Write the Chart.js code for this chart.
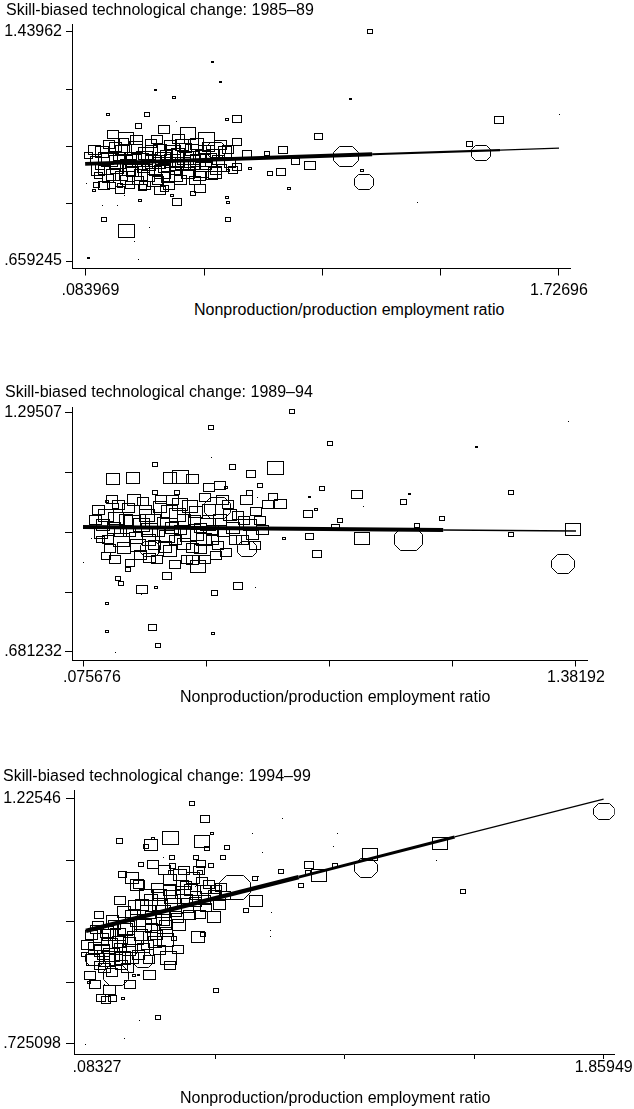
<!DOCTYPE html>
<html><head><meta charset="utf-8">
<script src="https://cdn.jsdelivr.net/npm/chart.js@4.4.0/dist/chart.umd.min.js"></script>
<style>
html,body{margin:0;padding:0;background:#fff;}
body{width:634px;height:1109px;position:relative;overflow:hidden;font-family:'Liberation Sans',Arial,sans-serif;}
canvas{position:absolute;left:0;}
.t{position:absolute;font-size:16px;line-height:16px;color:#000;white-space:nowrap;z-index:2;}
</style></head><body>
<div class="t" style="left:6px;top:1.5px">Skill-biased technological change: 1985–89</div>
<div class="t" style="left:194px;top:301.5px">Nonproduction/production employment ratio</div>
<div class="t" style="left:5px;top:383.5px">Skill-biased technological change: 1989–94</div>
<div class="t" style="left:180px;top:689px">Nonproduction/production employment ratio</div>
<div class="t" style="left:3px;top:767.5px">Skill-biased technological change: 1994–99</div>
<div class="t" style="left:180px;top:1089.5px">Nonproduction/production employment ratio</div>
<canvas id="c1" width="634" height="300" style="top:0px"></canvas>
<canvas id="c2" width="634" height="360" style="top:340px"></canvas>
<canvas id="c3" width="634" height="380" style="top:720px"></canvas>
<script>
// ---------- Panel 1: 1985–89 ----------
const xTicks1 = [0.083969, 0.494717, 0.905465, 1.316212, 1.72696];
const xTickLabels1 = ['  .083969', '', '', '', '1.72696'];
const yTicks1 = [0.659245, 0.854339, 1.049433, 1.244526, 1.43962];
const yTickLabels1 = ['.659245', '', '', '', '1.43962'];
const ratio1 = [
.522,.550,.327,.390,.160,.296,.574,.609,.268,.397,
.355,.178,.223,.438,.501,.609,.890,.768,.536,.643,
.713,.091,.810,.862,.609,.654,.577,.532,.761,.723,
.789,.122,.112,.202,.279,.355,.480,.456,.084,.216,
.272,.383,.400,.574,.577,.143,.192,.147,.577,.226,
.303,.254,.094,.265,1.071,1.001,1.519,1.727,1.415,.987,
1.456,1.043,1.050,1.237,
.119,.140,.147,.160,.167,.185,.192,.199,.209,.220,
.230,.240,.247,.258,.265,.272,.282,.292,.299,.310,
.317,.327,.334,.341,.352,.358,.369,.376,.383,.393,
.404,.411,.421,.431,.438,.449,.459,.470,.477,.491,
.501,.511,.522,.543,.556,.567,.584,.133,.174,.237,
.289,.129,.331,.404,.216,
.112,.126,.154,.164,.178,.195,.206,.223,.233,.251,
.261,.275,.286,.303,.313,.324,.338,.348,.362,.372,
.386,.397,.407,.418,.428,.442,.452,.463,.473,.487,
.497,.508,.525,.536,.550,.577,.595,.147,.202,.341];
const sbtc1 = [
1.337,1.269,1.242,1.215,1.157,1.160,1.143,1.143,1.119,1.133,
1.109,1.092,1.078,1.095,1.075,1.065,1.082,1.038,1.038,1.024,
1.024,1.020,.997,.983,.980,.976,.966,.959,.962,.959,
.905,.918,.898,.918,.911,.908,.908,.888,.922,.884,
.867,.881,.860,.877,.857,.847,.847,.799,.802,.761,
.772,.724,.669,.663,1.441,1.211,1.140,1.157,1.058,1.017,
1.027,.969,.928,.857,
1.003,1.031,.969,.942,1.003,1.048,.976,1.014,.949,1.038,
.986,1.014,.962,1.048,.935,1.003,.976,1.027,.949,1.058,
.997,.966,.932,1.038,1.010,.976,.945,1.055,1.000,.969,
1.024,.935,.990,1.044,.959,1.010,.983,1.058,.949,1.017,
.983,1.048,.949,1.003,.976,1.031,.993,.983,.918,.918,
.918,.952,1.072,1.075,1.065,
1.038,.969,1.010,1.055,.952,.997,1.038,.935,.969,1.003,
1.072,.952,1.010,.986,1.038,.935,.993,.962,1.020,.918,
1.031,.949,.997,1.055,1.010,.983,1.038,.935,1.003,.962,
1.038,1.003,1.020,.969,1.055,1.038,.969,.918,.901,.901];
const weight1 = [
4,4,4,9,9,16,9,49,25,1,
64,64,121,121,144,49,36,49,196,49,
16,36,36,64,49,9,9,100,49,16,
9,25,9,16,36,36,64,16,1,1,
9,9,49,9,9,1,1,16,16,144,
1,1,4,1,16,4,49,1,25,324,
196,9,196,1,
64,100,81,64,144,81,100,64,81,100,
121,64,81,100,64,144,81,121,100,64,
144,81,64,100,121,81,100,81,144,64,
100,81,121,81,100,144,64,100,81,121,
64,81,64,81,49,100,64,49,36,49,
64,36,64,81,49,
81,100,121,64,100,144,81,81,100,121,
81,100,144,100,81,121,100,144,81,64,
121,100,81,100,144,81,100,64,121,100,
81,144,100,64,81,64,49,64,49,64];
const fitX1 = [0.081, 1.078, 1.522, 1.727];
const fitY1 = [0.990, 1.023, 1.037, 1.044];

// ---------- Panel 2: 1989–94 ----------
const xTicks2 = [0.075676, 0.402237, 0.728798, 1.055359, 1.38192];
const xTickLabels2 = ['    .075676', '', '', '', '1.38192'];
const yTicks2 = [0.681232, 0.834692, 0.988151, 1.141611, 1.29507];
const yTickLabels2 = ['.681232', '', '', '', '1.29507'];
const ratio2 = [
.630,.415,.415,.267,.471,.521,.587,.155,.208,.306,
.333,.367,.410,.439,.455,.545,.267,.325,.518,.539,
.677,.579,.600,.672,.693,.139,.163,.433,.608,.137,
.097,.078,.195,.168,.176,.298,.380,.232,.269,.232,
.486,.534,.425,.139,.139,.261,.274,.163,.420,.253,
.510,1.361,.730,1.117,.709,.802,.942,1.210,.924,.820,
1.027,.757,.746,.961,1.374,.675,.815,.937,1.210,.696,
1.348,
.116,.129,.142,.153,.163,.174,.184,.195,.206,.216,
.227,.235,.245,.253,.264,.272,.280,.288,.298,.306,
.314,.325,.333,.343,.351,.359,.370,.378,.388,.399,
.407,.418,.428,.439,.449,.460,.473,.487,.497,.508,
.518,.534,.550,.566,.455,.367,.320,.200,.121,.532,
.108,.123,.137,.147,.158,.169,.179,.190,.200,.211,
.222,.232,.240,.251,.261,.275,.282,.293,.304,.312,
.322,.333,.343,.354,.365,.375,.386,.396,.410,.420,
.434,.444,.465,.481,.502,.524,.545,.161,.253,.399];
const sbtc2 = [
1.298,1.259,1.182,1.162,1.156,1.138,1.154,1.126,1.128,1.128,
1.131,1.126,1.105,1.108,1.105,1.108,1.092,1.092,1.090,1.079,
1.079,1.079,1.061,1.036,1.046,1.069,1.056,1.051,.972,.928,
.974,.910,.892,.871,.858,.877,.902,.843,.846,.830,
.851,.846,.833,.807,.735,.743,.699,.681,.728,.946,
.946,1.272,1.218,1.208,1.102,1.087,1.087,1.092,1.067,1.054,
1.025,1.018,1.002,1.005,.997,.977,.974,.969,.982,.933,
.907,
1.046,1.008,.969,1.072,1.025,.989,.948,1.051,1.015,.974,
.930,1.067,1.031,.995,.956,.918,1.054,1.015,.979,.941,
1.072,1.033,.995,.959,.920,1.056,1.020,.982,.946,1.077,
1.008,.969,.930,1.020,.989,1.059,1.000,1.033,.969,1.072,
1.008,1.041,.995,1.059,.938,.918,.905,.910,.969,.956,
1.020,.987,1.033,.948,1.000,1.059,.969,1.020,.989,1.072,
.956,1.008,1.046,.969,1.020,.989,1.072,.951,1.041,1.000,
.969,1.059,1.020,.982,.948,1.041,1.000,.969,1.046,.995,
.956,1.072,1.033,.969,1.020,.982,1.020,.918,.923,.918];
const weight2 = [
16,16,1,16,25,49,144,100,100,100,
144,81,64,64,9,16,16,16,25,1,
4,49,81,49,9,9,25,361,9,49,
1,1,16,16,16,49,121,64,9,1,
49,1,25,9,9,36,16,1,9,196,
196,1,16,4,16,64,4,16,25,1,
16,16,36,16,121,36,121,400,16,49,
289,
81,100,64,64,121,81,100,81,144,100,
81,64,121,144,81,64,100,81,121,100,
81,144,81,100,64,121,81,100,81,64,
121,81,64,100,81,64,100,64,81,81,
100,64,81,64,64,81,64,49,36,64,
81,100,121,64,100,81,144,100,81,100,
121,144,81,100,121,81,64,100,144,100,
81,121,100,144,81,100,81,121,100,81,
64,81,100,81,64,81,64,64,81,64];
const fitX2 = [0.0757, 1.030, 1.382];
const fitY2 = [1.002, 0.9947, 0.992];

// ---------- Panel 3: 1994–99 ----------
const xTicks3 = [0.08327, 0.527325, 0.97138, 1.415435, 1.85949];
const xTickLabels3 = ['     .08327', '', '', '', '1.85949'];
const yTicks3 = [0.725098, 0.850189, 0.975279, 1.100370, 1.22546];
const yTickLabels3 = ['.725098', '', '', '', '1.22546'];
const ratio3 = [
.448,.492,.758,.516,.373,.315,.199,.308,.288,.482,
.499,.567,.349,.380,.554,.690,.656,.462,.380,.312,
.271,.479,.513,.751,.676,.663,.475,.376,.209,.243,
.257,.428,.458,.482,.496,.530,.595,.666,.632,.721,
.717,.717,.475,.523,.469,.486,.387,.356,.400,.366,
.278,.209,.158,.114,.0765,.186,.247,.264,.097,.0935,
.148,.134,.175,.209,.530,.329,.267,.216,.0833,.946,
.932,.850,.884,.939,1.058,1.045,1.287,1.297,1.375,1.859,
.820,.844,.547,.496,
.104,.114,.124,.134,.145,.155,.165,.175,.186,.192,
.203,.213,.223,.233,.243,.250,.261,.271,.281,.288,
.298,.308,.319,.329,.339,.349,.359,.370,.380,.390,
.404,.414,.424,.438,.451,.462,.489,.506,.540,.561,
.131,.172,.226,.301,.336,.128,.199,.267,.353,.421,
.090,.107,.117,.138,.148,.162,.172,.182,.196,.206,
.216,.230,.240,.254,.264,.274,.284,.295,.305,.315,
.325,.336,.346,.356,.370,.383,.397,.407,.417,.431,
.445,.458,.472,.523,.114,.165,.233,.301,.370,.152];
const sbtc3 = [
1.217,1.185,1.185,1.156,1.146,1.144,1.140,1.131,1.129,1.138,
1.125,1.127,1.107,1.107,1.107,1.117,1.154,1.107,1.089,1.091,
1.091,1.093,1.089,1.078,1.068,1.064,1.076,1.076,1.072,1.064,
1.050,1.048,1.046,1.056,1.040,1.040,1.044,1.017,.997,.993,
.956,.944,.989,.985,.944,.948,.940,.938,.919,.901,
.897,.901,.897,.901,.907,.864,.866,.866,.866,.850,
.846,.819,.819,.817,.835,.780,.774,.737,.725,1.154,
1.129,1.091,1.070,1.089,1.113,1.085,1.099,1.134,1.036,1.199,
1.048,1.076,1.044,1.003,
.948,.921,.968,.938,.907,.954,.927,.978,.897,.948,
.921,.995,.962,.933,.901,1.009,.978,.948,.921,1.029,
.995,.962,.933,1.044,1.009,.978,.954,1.060,1.025,.995,
.968,1.050,1.019,.989,1.064,1.029,1.019,1.050,1.009,1.029,
.886,.872,.880,.897,.917,.989,1.019,1.050,1.080,1.080,
.927,.897,.958,.917,.880,.948,.907,.968,.933,.886,
.958,.917,.989,.942,.907,1.009,.968,.927,1.019,.982,
.948,1.029,.995,.968,1.040,1.009,.982,1.070,1.034,1.003,
1.040,1.015,1.080,1.029,.846,.835,.846,.866,.886,.815];
const weight3 = [
16,49,1,9,144,9,25,100,16,121,
16,16,1,16,16,1,1,16,25,64,
16,49,16,16,1,16,16,16,36,100,
100,64,1,64,64,64,484,100,16,1,
1,1,64,100,100,16,16,144,64,144,
196,144,144,196,16,324,9,4,64,9,
1,49,36,9,16,16,1,1,1,1,
1,49,121,16,121,289,1,121,16,225,
16,16,64,64,
81,100,64,121,81,100,144,81,100,121,
81,100,144,81,100,81,121,100,81,100,
144,81,100,81,121,100,81,100,144,81,
100,81,121,81,100,64,81,64,81,64,
64,64,81,64,81,49,64,64,81,64,
81,100,64,121,81,100,144,81,100,81,
121,100,81,144,81,100,121,81,100,144,
81,100,121,81,100,144,81,100,121,81,
100,81,64,81,64,81,64,81,64,49];
const fitX3 = [0.0833, 0.813, 1.348, 1.859];
const fitY3 = [0.956, 1.066, 1.148, 1.225];

// ---------- rendering ----------
const FONT = "'Liberation Sans', Arial, sans-serif";
const SIZE_SCALE = 1.15;
const markerCache = {};
function marker(s) {
  const h = Math.max(1, Math.round(s));
  const w = Math.max(1, Math.round(s * 1.25));
  const key = w + 'x' + h;
  if (markerCache[key]) return markerCache[key];
  const c = document.createElement('canvas');
  c.width = w + 2; c.height = h + 2;
  const g = c.getContext('2d');
  g.fillStyle = '#000'; g.strokeStyle = '#000'; g.lineWidth = 1;
  if (h <= 2) {
    g.fillRect(1, 1, w, h);
  } else if (h < 16) {
    g.strokeRect(1.5, 1.5, w - 1, h - 1);
  } else {
    const k = Math.round(h * 0.28);
    const L = 1.5, T = 1.5, R = w + 0.5, B = h + 0.5;
    g.beginPath();
    g.moveTo(L + k, T); g.lineTo(R - k, T); g.lineTo(R, T + k); g.lineTo(R, B - k);
    g.lineTo(R - k, B); g.lineTo(L + k, B); g.lineTo(L, B - k); g.lineTo(L, T + k);
    g.closePath(); g.stroke();
  }
  markerCache[key] = c;
  return c;
}

const crispMarkers = {
  id: 'crispMarkers',
  beforeDatasetsDraw(chart) { chart.ctx.imageSmoothingEnabled = false; },
  afterDatasetsDraw(chart) { chart.ctx.imageSmoothingEnabled = true; }
};

function panel(id, o) {
  const pts = o.x.map((v, i) => ({x: v, y: o.y[i]}));
  const fit = o.fx.map((v, i) => ({x: v, y: o.fy[i]}));
  new Chart(document.getElementById(id), {
    type: 'scatter',
    plugins: [crispMarkers],
    data: {datasets: [
      {type: 'line', data: fit, borderColor: '#000', backgroundColor: '#000', pointRadius: 0,
       borderWidth: o.fw[0], fill: false, tension: 0, order: 0, borderCapStyle: 'butt',
       segment: {borderWidth: c => o.fw[c.p0DataIndex]}},
      {data: pts, order: 1, pointRadius: 3, pointHoverRadius: 3,
       pointStyle: c => {
         const s = Math.sqrt(o.w[c.dataIndex]);
         return marker(s > 2 ? s * SIZE_SCALE : s);
       }}
    ]},
    options: {
      responsive: false, animation: false, events: [],
      plugins: {legend: {display: false}, tooltip: {enabled: false}, title: {display: false}},
      layout: {padding: {top: o.padTop, right: 634 - o.right, left: 0, bottom: 0}},
      scales: {
        x: {type: 'linear', min: o.xmin, max: o.xmax,
          afterFit: s => { s.height = o.xh; },
          afterBuildTicks: s => { s.ticks = o.xt.map(v => ({value: v})); },
          ticks: {callback: (v, i) => o.xl[i], autoSkip: false, maxRotation: 0, minRotation: 0,
                  color: '#000', font: {family: FONT, size: 16, lineHeight: 1}, padding: o.xpad},
          grid: {drawOnChartArea: false, drawTicks: true, tickLength: o.xtl, color: '#000',
                 tickColor: c => (o.hideFirstX && c.index === 0) ? 'rgba(0,0,0,0)' : '#000', tickWidth: 1},
          border: {display: true, color: '#000', width: 1}},
        y: {type: 'linear', min: o.ymin, max: o.ymax,
          afterFit: s => { s.width = o.left; },
          afterBuildTicks: s => { s.ticks = o.yt.map(v => ({value: v})); },
          ticks: {callback: (v, i) => o.yl[i], autoSkip: false, color: '#000',
                  font: {family: FONT, size: 16}, padding: o.ypad},
          grid: {drawOnChartArea: false, drawTicks: true, tickLength: o.ytl, color: '#000', tickColor: '#000', tickWidth: 1},
          border: {display: true, color: '#000', width: 1}}
      }
    }
  });
}

panel('c1', {x: ratio1, y: sbtc1, w: weight1, fx: fitX1, fy: fitY1, fw: [3.8, 2.2, 1.2],
  xt: xTicks1, xl: xTickLabels1, yt: yTicks1, yl: yTickLabels1,
  xmin: 0.03534, xmax: 1.76517, ymin: 0.63369, ymax: 1.46688,
  padTop: 24, right: 570, left: 72, xh: 31.5, xtl: 7, xpad: 7.5, ytl: 6, ypad: 4});
panel('c2', {x: ratio2, y: sbtc2, w: weight2, fx: fitX2, fy: fitY2, fw: [4, 1.5],
  xt: xTicks2, xl: xTickLabels2, yt: yTicks2, yl: yTickLabels2,
  xmin: 0.04653, xmax: 1.41107, ymin: 0.65940, ymax: 1.31048,
  padTop: 67, right: 587, left: 72, xh: 39.5, xtl: 6, xpad: 3.5, ytl: 7, ypad: 3});
panel('c3', {x: ratio3, y: sbtc3, w: weight3, fx: fitX3, fy: fitY3, fw: [4.5, 3, 1.3],
  xt: xTicks3, xl: xTickLabels3, yt: yTicks3, yl: yTickLabels3, hideFirstX: true,
  xmin: 0.04236, xmax: 1.89699, ymin: 0.70467, ymax: 1.24384,
  padTop: 70, right: 618, left: 74, xh: 46, xtl: 5, xpad: 1, ytl: 8, ypad: 5});
</script>
</body></html>
